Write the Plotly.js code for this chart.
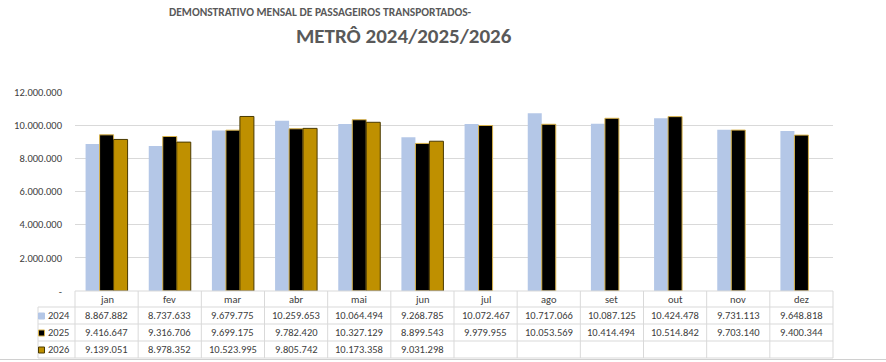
<!DOCTYPE html>
<html>
<head>
<meta charset="utf-8">
<script src="https://cdn.plot.ly/plotly-3.0.1.min.js"></script>
<style>
  html, body { margin: 0; padding: 0; background: #ffffff; }
  #chart { width: 886px; height: 362px; }
</style>
</head>
<body>
<div id="chart"></div>
<script>
// Monthly passengers carried by the metro, 2024–2026
const months = ['jan', 'fev', 'mar', 'abr', 'mai', 'jun', 'jul', 'ago', 'set', 'out', 'nov', 'dez'];
const years = ['2024', '2025', '2026'];
const v2024 = [8867882, 8737633, 9679775, 10259653, 10064494, 9268785, 10072467, 10717066, 10087125, 10424478, 9731113, 9648818];
const v2025 = [9416647, 9316706, 9699175, 9782420, 10327129, 8899543, 9979955, 10053569, 10414494, 10514842, 9703140, 9400344];
const v2026 = [9139051, 8978352, 10523995, 9805742, 10173358, 9031298, null, null, null, null, null, null];
const yTicks = [0, 2000000, 4000000, 6000000, 8000000, 10000000, 12000000];

const FONT = 'Carlito, Lato, "Open Sans", sans-serif';
const W = 886, H = 362;
const M = { l: 75, r: 53, t: 92, b: 71 };
const plotH = H - M.t - M.b;
const plotW = W - M.l - M.r;
const GRID = '#d9d9d9';
const TXT = '#404040';

// pixel helpers (paper coordinates relative to the plot area)
const py = px => (H - M.b - px) / plotH;
const pxX = px => (px - M.l) / plotW;

function fmt(v) {
  if (v === null || v === undefined) return '';
  return String(v).replace(/\B(?=(\d{3})+(?!\d))/g, '.');
}

const styles = [
  { fill: '#b4c7e7', line: '#b4c7e7', lw: 0 },
  { fill: '#000000', line: '#d8b24a', lw: 1 },
  { fill: '#bf9000', line: '#4a3a00', lw: 1 }
];
const series = [v2024, v2025, v2026];

const traces = series.map((vals, i) => ({
  type: 'bar',
  name: years[i],
  x: months,
  y: vals,
  marker: { color: styles[i].fill, line: { color: styles[i].line, width: styles[i].lw } },
  hoverinfo: 'x+y+name'
}));

// data table under the axis
const rowTop = [291, 307, 324, 341, 358];
const tableLeft = 38, catLeft = M.l, tableRight = W - M.r;
const colW = plotW / months.length;
const shapes = [];
const line = (x0, y0, x1, y1) => shapes.push({
  type: 'line', xref: 'paper', yref: 'paper',
  x0: pxX(x0), x1: pxX(x1), y0: py(y0), y1: py(y1),
  line: { color: GRID, width: 1 }
});
// horizontal rules
line(catLeft, rowTop[0], tableRight, rowTop[0]);
for (let r = 1; r < rowTop.length; r++) line(tableLeft, rowTop[r], tableRight, rowTop[r]);
// vertical rules
line(tableLeft, rowTop[1], tableLeft, rowTop[4]);
for (let c = 0; c <= months.length; c++) {
  const x = catLeft + c * colW;
  line(x, rowTop[0], x, rowTop[4]);
}
// bottom edge
shapes.push({ type: 'line', xref: 'paper', yref: 'paper', x0: pxX(0), x1: pxX(W), y0: py(359.5), y1: py(359.5), line: { color: '#d0d0d0', width: 1 } });

const annotations = [];
// titles
annotations.push({
  xref: 'paper', yref: 'paper', x: pxX(320), y: py(12), xanchor: 'center', yanchor: 'middle',
  text: '<b>DEMONSTRATIVO MENSAL DE PASSAGEIROS TRANSPORTADOS-</b>', showarrow: false,
  font: { family: FONT, size: 11.5, color: '#595959' }
});
annotations.push({
  xref: 'paper', yref: 'paper', x: pxX(404), y: py(36), xanchor: 'center', yanchor: 'middle',
  text: '<b>METRÔ 2024/2025/2026</b>', showarrow: false,
  font: { family: FONT, size: 21, color: '#595959' }
});
// header row: month names
months.forEach(m => annotations.push({
  xref: 'x', yref: 'paper', x: m, y: py((rowTop[0] + rowTop[1]) / 2), xanchor: 'center', yanchor: 'middle',
  text: m, showarrow: false, font: { family: FONT, size: 10.5, color: TXT }
}));
// value rows with legend keys
series.forEach((vals, i) => {
  const yc = (rowTop[i + 1] + rowTop[i + 2]) / 2;
  annotations.push({
    xref: 'paper', yref: 'paper', x: pxX(46), y: py(yc - 0.5), xanchor: 'left', yanchor: 'middle',
    text: years[i], showarrow: false, font: { family: FONT, size: 10.5, color: TXT }
  });
  shapes.push({
    type: 'rect', xref: 'paper', yref: 'paper',
    x0: pxX(38.5), x1: pxX(44.5), y0: py(yc + 3.5), y1: py(yc - 2.5),
    fillcolor: styles[i].fill, line: { color: i === 0 ? styles[i].fill : styles[i].line, width: 1 }
  });
  vals.forEach((v, j) => {
    if (v === null) return;
    annotations.push({
      xref: 'x', yref: 'paper', x: months[j], y: py(yc), xanchor: 'center', yanchor: 'middle',
      text: fmt(v), showarrow: false, font: { family: FONT, size: 10.5, color: TXT }
    });
  });
});

const layout = {
  width: W, height: H,
  margin: M,
  paper_bgcolor: '#ffffff', plot_bgcolor: '#ffffff',
  showlegend: false,
  barmode: 'group',
  bargap: 0.335,
  bargroupgap: 0,
  xaxis: {
    type: 'category',
    showticklabels: false, showgrid: false, zeroline: false, showline: false, ticks: '',
    fixedrange: true
  },
  yaxis: {
    range: [0, 12000000],
    tickvals: yTicks,
    ticktext: yTicks.map(v => v === 0 ? '-' : fmt(v)),
    ticklabelstandoff: 12,
    showgrid: true, gridcolor: GRID, gridwidth: 1,
    zeroline: false, showline: false, ticks: '',
    tickfont: { family: FONT, size: 10.5, color: TXT },
    fixedrange: true
  },
  shapes: shapes,
  annotations: annotations
};

Plotly.newPlot('chart', traces, layout, { displayModeBar: false, staticPlot: true });
</script>
</body>
</html>
